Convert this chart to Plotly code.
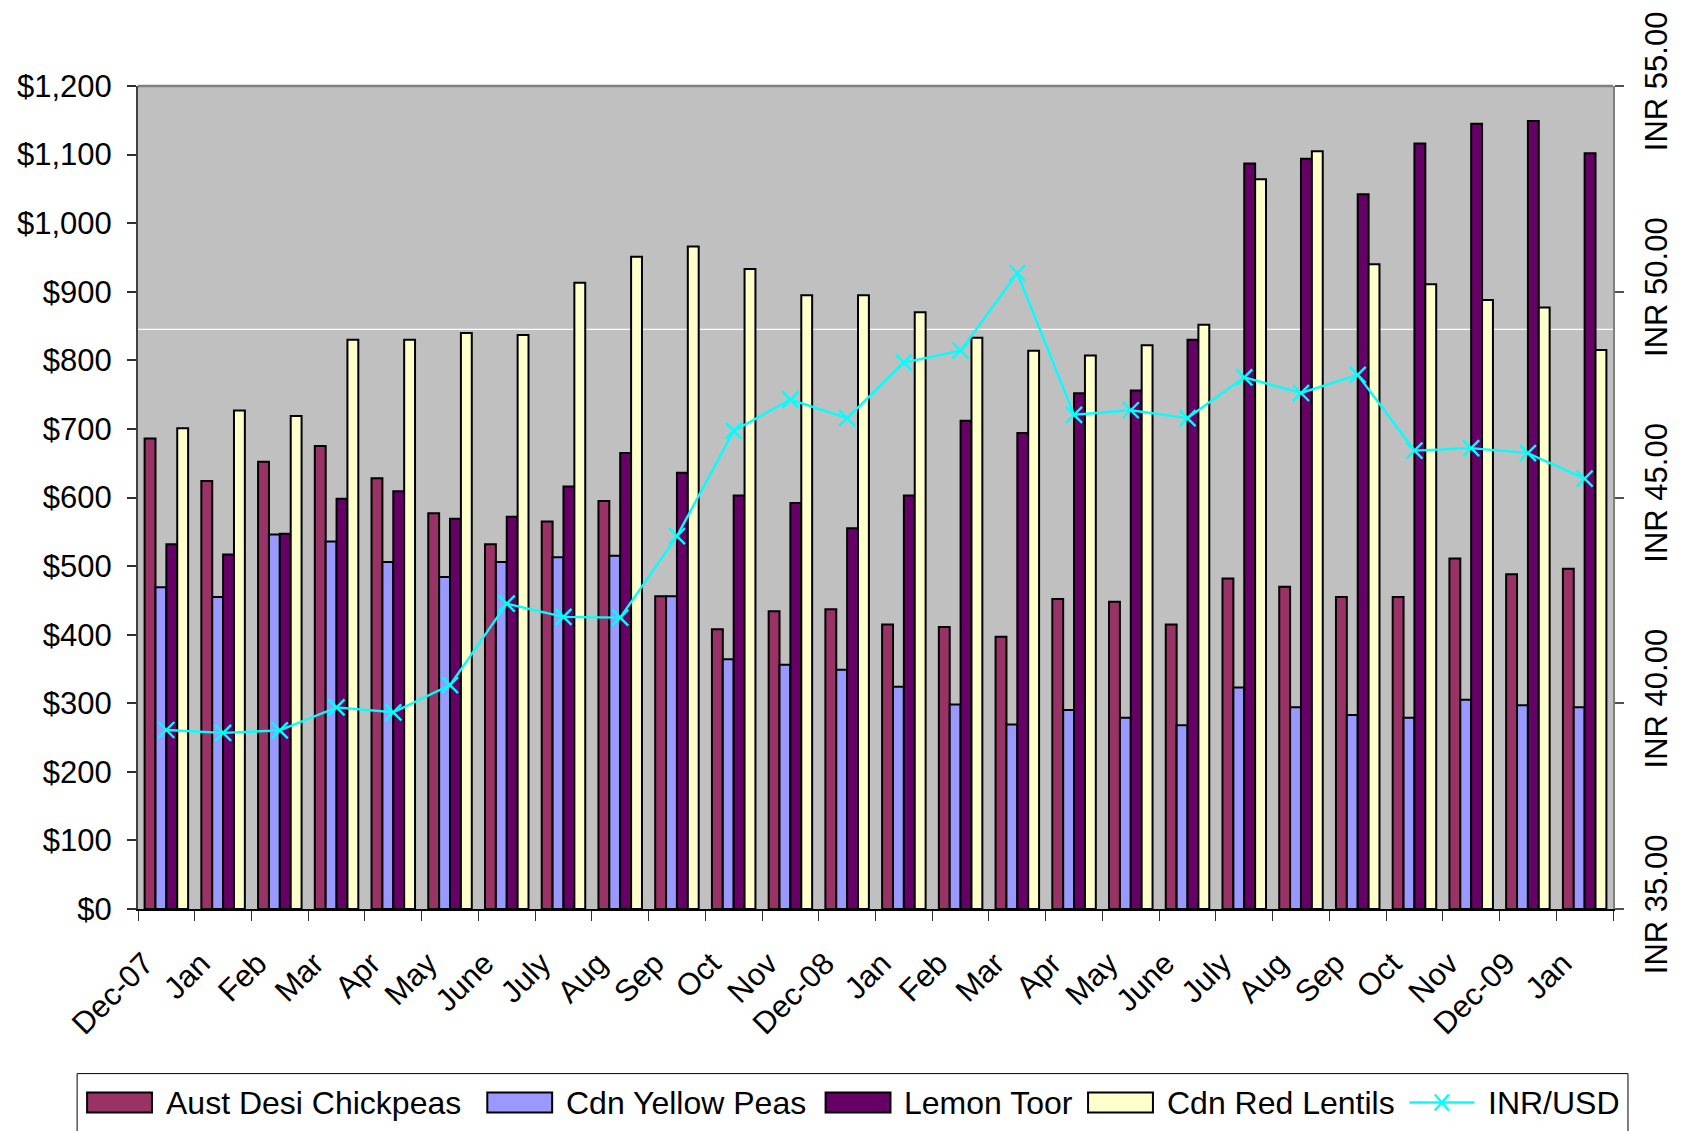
import plotly.graph_objects as go

# Monthly tick labels, Dec 2007 through Jan 2010
months = ["Dec-07", "Jan", "Feb", "Mar", "Apr", "May", "June", "July", "Aug", "Sep",
          "Oct", "Nov", "Dec-08", "Jan", "Feb", "Mar", "Apr", "May", "June", "July",
          "Aug", "Sep", "Oct", "Nov", "Dec-09", "Jan"]

# Prices in USD per tonne
aust_desi_chickpeas = [686, 624, 652, 675, 628, 577, 532, 565, 595, 456, 408, 434, 437,
                       415, 411, 397, 452, 448, 415, 482, 470, 455, 455, 511, 488, 496]
cdn_yellow_peas = [469, 455, 546, 536, 506, 484, 506, 513, 515, 456, 364, 356, 349,
                   324, 298, 269, 290, 279, 268, 323, 294, 283, 279, 305, 297, 294]
lemon_toor = [532, 517, 547, 598, 609, 569, 572, 616, 665, 636, 603, 592, 555,
              603, 712, 694, 752, 756, 830, 1087, 1094, 1042, 1116, 1145, 1149, 1102]
cdn_red_lentils = [701, 727, 719, 830, 830, 840, 837, 913, 951, 966, 933, 895, 895,
                   870, 833, 814, 807, 822, 852, 1064, 1105, 940, 911, 888, 877, 815]

# Exchange rate, rupees per US dollar
inr_usd = [39.35, 39.28, 39.34, 39.90, 39.78, 40.44, 42.42, 42.10, 42.08, 44.06,
           46.62, 47.38, 46.93, 48.28, 48.57, 50.45, 47.01, 47.12, 46.93, 47.92,
           47.54, 47.98, 46.14, 46.20, 46.08, 45.46]

# Axis tick values
usd_ticks = list(range(0, 1300, 100))
inr_ticks = [35, 40, 45, 50, 55]

# Light horizontal rule across the plot area (USD scale)
rule_level = 845

FONT = "Liberation Sans, Arial, sans-serif"
FONT_SIZE = 31
LEGEND_FONT_SIZE = 32
W, H = 1686, 1131
M_L, M_R, M_T, M_B = 138, 70, 84, 222
PLOT_W = W - M_L - M_R
PLOT_H = H - M_T - M_B

CYAN = "#00FFFF"
bar_series = [
    ("Aust Desi Chickpeas", aust_desi_chickpeas, "#993366"),
    ("Cdn Yellow Peas", cdn_yellow_peas, "#9999FF"),
    ("Lemon Toor", lemon_toor, "#660066"),
    ("Cdn Red Lentils", cdn_red_lentils, "#FFFFCC"),
]
line_name = "INR/USD"

x = list(range(len(months)))
boundaries = [i - 0.5 for i in range(len(months) + 1)]

fig = go.Figure()
for name, vals, color in bar_series:
    fig.add_trace(go.Bar(
        x=x, y=vals, name=name,
        marker=dict(color=color, line=dict(color="black", width=2)),
    ))

fig.add_trace(go.Scatter(
    x=x, y=inr_usd, name=line_name, yaxis="y2",
    mode="lines+markers",
    line=dict(color=CYAN, width=2.4),
    marker=dict(symbol="x-thin", size=16, color=CYAN,
                line=dict(color=CYAN, width=2.4)),
))


def px_x(px):
    return (px - M_L) / PLOT_W


def px_y(py):
    return (H - M_B - py) / PLOT_H


# Legend drawn as a framed row of wide swatches beneath the chart
shapes = [
    dict(type="line", xref="paper", yref="y", x0=0, x1=1,
         y0=rule_level, y1=rule_level,
         line=dict(color="white", width=1.2), layer="below"),
    dict(type="line", xref="paper", yref="paper", x0=0, x1=1, y0=1, y1=1,
         line=dict(color="#808080", width=2.5), layer="above"),
    dict(type="rect", xref="paper", yref="paper",
         x0=px_x(77), x1=px_x(1631), y0=px_y(1074), y1=px_y(1145),
         line=dict(color="black", width=1), fillcolor="white", layer="above"),
]
annotations = []

legend_text_x = [164, 565, 904, 1167, 1489]
swatch_w, swatch_gap = 65, 12
leg_cy = 1103
entries = [(n, c, "bar") for n, _, c in bar_series] + [(line_name, CYAN, "line")]
for (name, color, kind), tx in zip(entries, legend_text_x):
    sx0, sx1 = tx - swatch_gap - swatch_w, tx - swatch_gap
    if kind == "bar":
        shapes.append(dict(
            type="rect", xref="paper", yref="paper",
            x0=px_x(sx0), x1=px_x(sx1), y0=px_y(leg_cy - 10), y1=px_y(leg_cy + 10),
            line=dict(color="black", width=2), fillcolor=color, layer="above"))
    else:
        shapes.append(dict(
            type="line", xref="paper", yref="paper",
            x0=px_x(sx0), x1=px_x(sx1), y0=px_y(leg_cy), y1=px_y(leg_cy),
            line=dict(color=color, width=2.4), layer="above"))
        cx = (sx0 + sx1) / 2
        for dy in (-1, 1):
            shapes.append(dict(
                type="line", xref="paper", yref="paper",
                x0=px_x(cx - 7), x1=px_x(cx + 7),
                y0=px_y(leg_cy - 8 * dy), y1=px_y(leg_cy + 8 * dy),
                line=dict(color=color, width=2.4), layer="above"))
    annotations.append(dict(
        text=name, xref="paper", yref="paper", x=px_x(tx), y=px_y(leg_cy),
        xanchor="left", yanchor="middle", showarrow=False,
        font=dict(family=FONT, size=LEGEND_FONT_SIZE, color="black")))

tickfont = dict(family=FONT, size=FONT_SIZE, color="black")

fig.update_layout(
    width=W, height=H,
    margin=dict(l=M_L, r=M_R, t=M_T, b=M_B),
    paper_bgcolor="white",
    plot_bgcolor="#C0C0C0",
    barmode="group",
    bargap=0.233,
    bargroupgap=0,
    font=dict(family=FONT, size=FONT_SIZE, color="black"),
    showlegend=False,
    xaxis=dict(
        range=[-0.5, len(months) - 0.5],
        tickmode="array", tickvals=x, ticktext=months,
        tickangle=-45, ticks="", showgrid=False, zeroline=False,
        showline=True, linecolor="black", linewidth=2,
        tickfont=tickfont,
        ticklabelstandoff=22, ticklabelshift=-22,
        minor=dict(
            tickmode="array", tickvals=boundaries,
            ticks="outside", ticklen=10, tickcolor="#303030", tickwidth=1.2,
            showgrid=False,
        ),
    ),
    # inner half of the category boundary ticks
    xaxis2=dict(
        overlaying="x", anchor="y", side="bottom",
        range=[-0.5, len(months) - 0.5],
        tickmode="array", tickvals=boundaries,
        ticks="inside", ticklen=10, tickcolor="#303030", tickwidth=1.2,
        showticklabels=False, showgrid=False, zeroline=False, showline=False,
    ),
    yaxis=dict(
        range=[0, 1200],
        tickmode="array", tickvals=usd_ticks,
        ticktext=[f"${v:,}" for v in usd_ticks],
        ticks="outside", ticklen=9, tickcolor="#303030", tickwidth=1.5,
        ticklabelstandoff=9,
        showgrid=False, zeroline=False,
        showline=True, linecolor="#404040", linewidth=2,
        tickfont=tickfont,
    ),
    yaxis3=dict(
        overlaying="y", anchor="x", side="left",
        range=[0, 1200],
        tickmode="array", tickvals=usd_ticks,
        ticks="inside", ticklen=10, tickcolor="#303030", tickwidth=1.5,
        showticklabels=False, showgrid=False, zeroline=False, showline=False,
    ),
    yaxis2=dict(
        overlaying="y", side="right", anchor="x",
        range=[35, 55],
        tickmode="array", tickvals=inr_ticks,
        ticktext=[f"INR {v:.2f}" for v in inr_ticks],
        tickangle=-90,
        ticks="outside", ticklen=9, tickcolor="#505050", tickwidth=1.5,
        ticklabelstandoff=6,
        showgrid=False, zeroline=False,
        showline=True, linecolor="#808080", linewidth=2,
        tickfont=tickfont,
    ),
    yaxis4=dict(
        overlaying="y", side="right", anchor="x",
        range=[35, 55],
        tickmode="array", tickvals=inr_ticks,
        ticks="inside", ticklen=10, tickcolor="#505050", tickwidth=1.5,
        showticklabels=False, showgrid=False, zeroline=False, showline=False,
    ),
    shapes=shapes,
    annotations=annotations,
)

fig.write_html("out.html")
